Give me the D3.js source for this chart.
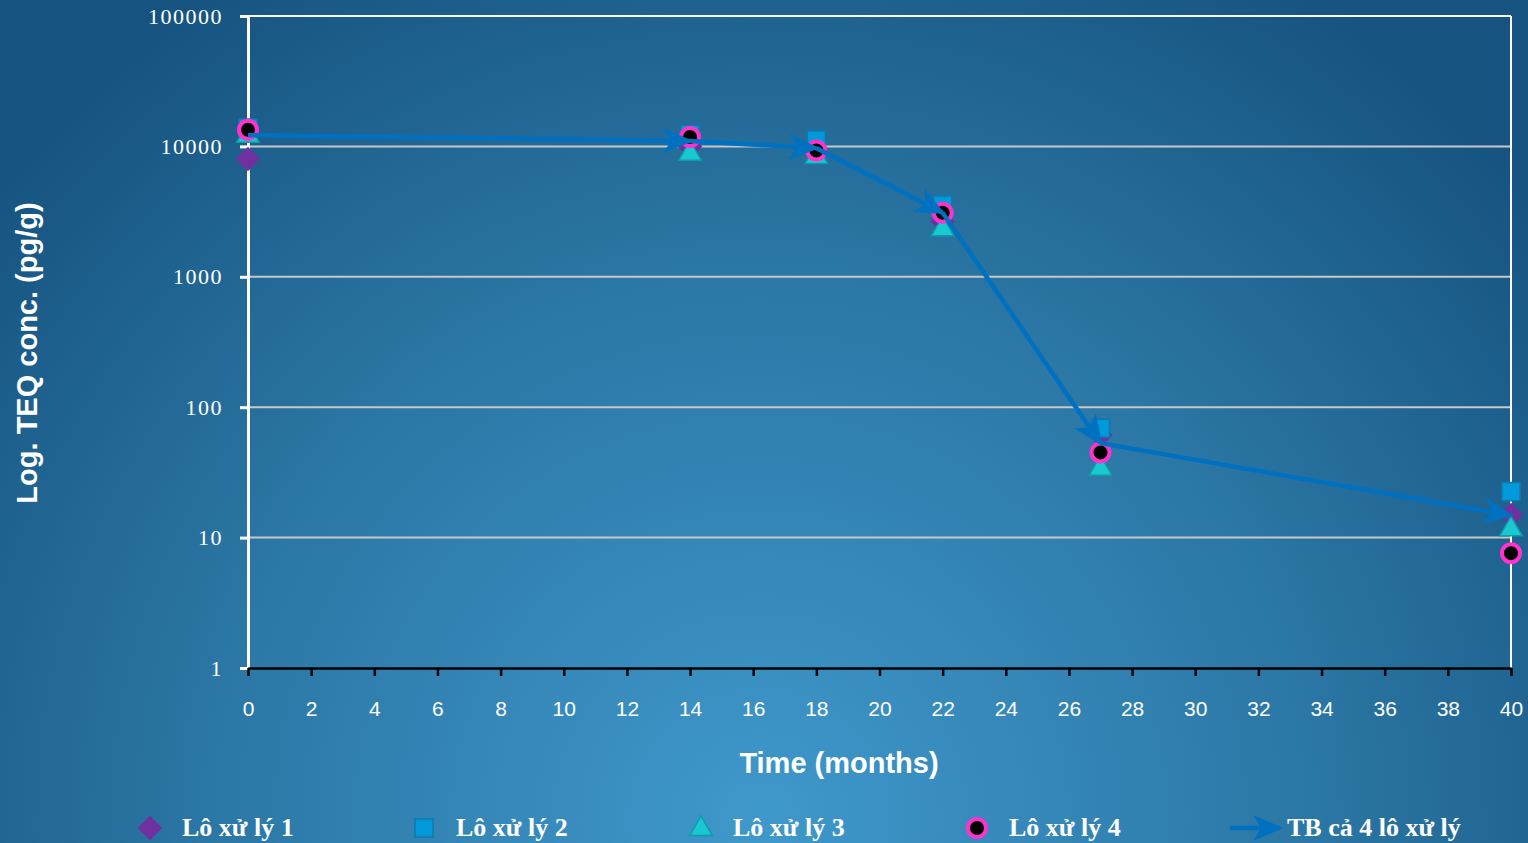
<!DOCTYPE html>
<html>
<head>
<meta charset="utf-8">
<script src="https://cdn.jsdelivr.net/npm/d3@7"></script>
<style>
  html, body { margin: 0; padding: 0; overflow: hidden; }
  svg { display: block; }
</style>
</head>
<body>
<div id="base"></div>
<script>
// data
var months = [0, 14, 18, 22, 27, 40];
var lot1 = [8000, 10000, 9500, 2650, 61, 14.9];
var lot2 = [13800, 12400, 11200, 3550, 69, 22.5];
var lot3 = [12500, 9100, 8600, 2400, 35, 12];
var lot4 = [13400, 11800, 9300, 3100, 45, 7.6];
var average = [12200, 11000, 9700, 3100, 53, 14.8];
var seriesNames = ["Lô xử lý 1", "Lô xử lý 2", "Lô xử lý 3", "Lô xử lý 4", "TB cả 4 lô xử lý"];
var yTicks = [1, 10, 100, 1000, 10000, 100000];
var xTicks = d3.range(0, 41, 2);

const width = 1528;
const height = 843;
const plotLeft = 248, plotRight = 1511, plotTop = 16, plotBottom = 668;

const x = d3.scaleLinear().domain([0, 40]).range([plotLeft, plotRight]);
const y = d3.scaleLog().domain([1, 100000]).range([plotBottom, plotTop]);

const svg = d3.select("#base").append("svg")
    .attr("width", width)
    .attr("height", height);

const defs = svg.append("defs");
const grad = defs.append("radialGradient")
    .attr("id", "bg")
    .attr("gradientUnits", "userSpaceOnUse")
    .attr("cx", 760).attr("cy", 820).attr("r", 1000)
    .attr("fx", 760).attr("fy", 820);
grad.append("stop").attr("offset", 0).attr("stop-color", "#3f98cb");
grad.append("stop").attr("offset", 0.55).attr("stop-color", "#2b77a5");
grad.append("stop").attr("offset", 1).attr("stop-color", "#165380");

// stealth style arrow head
defs.append("marker")
    .attr("id", "arrow")
    .attr("viewBox", "0 0 30 30")
    .attr("refX", 27).attr("refY", 15)
    .attr("markerWidth", 30).attr("markerHeight", 30)
    .attr("markerUnits", "userSpaceOnUse")
    .attr("orient", "auto")
  .append("path")
    .attr("d", "M0,2 L30,15 L0,28 L8,15 Z")
    .attr("fill", "#0070c0");

svg.append("rect")
    .attr("width", width).attr("height", height)
    .attr("fill", "url(#bg)");

// grid lines
svg.append("g")
  .selectAll("line")
  .data(yTicks.filter(d => d > 1 && d < 100000))
  .join("line")
    .attr("x1", plotLeft).attr("x2", plotRight)
    .attr("y1", d => y(d)).attr("y2", d => y(d))
    .attr("stroke", "#c8c8c8")
    .attr("stroke-width", 2);

// frame: top and right
svg.append("line")
    .attr("x1", plotLeft).attr("x2", plotRight).attr("y1", plotTop).attr("y2", plotTop)
    .attr("stroke", "#fff").attr("stroke-width", 2);
svg.append("line")
    .attr("x1", plotRight).attr("x2", plotRight).attr("y1", plotTop).attr("y2", plotBottom)
    .attr("stroke", "#fff").attr("stroke-width", 2);

// y axis
const yAxis = svg.append("g")
    .attr("transform", `translate(${plotLeft},0)`)
    .call(d3.axisLeft(y).tickValues(yTicks).tickFormat(d3.format("d")).tickSize(8).tickPadding(17));
yAxis.select(".domain").attr("stroke", "#fff").attr("stroke-width", 3);
yAxis.selectAll(".tick line").attr("stroke", "#fff").attr("stroke-width", 3);
yAxis.selectAll(".tick text")
    .attr("fill", "#fff")
    .attr("font-family", "'Liberation Serif', 'DejaVu Serif', serif")
    .attr("font-size", 22)
    .style("letter-spacing", "1.5px");

// x axis
const xAxis = svg.append("g")
    .attr("transform", `translate(0,${plotBottom})`)
    .call(d3.axisBottom(x).tickValues(xTicks).tickSize(8).tickPadding(25).tickSizeOuter(0));
xAxis.select(".domain").attr("stroke", "#000").attr("stroke-width", 2.5);
xAxis.selectAll(".tick line").attr("stroke", "#000").attr("stroke-width", 2.5);
xAxis.selectAll(".tick text")
    .attr("fill", "#fff")
    .attr("font-family", "'Liberation Sans', Arial, sans-serif")
    .attr("font-size", 21);

// axis titles
svg.append("text")
    .attr("x", 839).attr("y", 773)
    .attr("text-anchor", "middle")
    .attr("fill", "#fff")
    .attr("font-family", "'Liberation Sans', Arial, sans-serif")
    .attr("font-weight", "bold")
    .attr("font-size", 29)
    .text("Time (months)");

svg.append("text")
    .attr("transform", "translate(37,353) rotate(-90)")
    .attr("text-anchor", "middle")
    .attr("fill", "#fff")
    .attr("font-family", "'Liberation Sans', Arial, sans-serif")
    .attr("font-weight", "bold")
    .attr("font-size", 29)
    .text("Log. TEQ conc. (pg/g)");

// marker drawing helpers
const sym = {
  diamond: d3.symbol().type(d3.symbolSquare).size(300),
  square: d3.symbol().type(d3.symbolSquare).size(330),
  triangle: d3.symbol().type(d3.symbolTriangle).size(220)
};

function drawDiamond(g, cx, cy) {
  g.append("path").attr("d", sym.diamond())
    .attr("transform", `translate(${cx},${cy}) rotate(45)`)
    .attr("fill", "#7030a0");
}
function drawSquare(g, cx, cy) {
  g.append("path").attr("d", sym.square())
    .attr("transform", `translate(${cx},${cy})`)
    .attr("fill", "#0099d9").attr("stroke", "#0f79ad").attr("stroke-width", 1.5);
}
function drawTriangle(g, cx, cy) {
  g.append("path").attr("d", sym.triangle())
    .attr("transform", `translate(${cx},${cy + 2})`)
    .attr("fill", "#18c9d2").attr("stroke", "#0f9ba8").attr("stroke-width", 1.5);
}
function drawCircle(g, cx, cy) {
  g.append("circle").attr("cx", cx).attr("cy", cy).attr("r", 9)
    .attr("fill", "#000").attr("stroke", "#ff33cc").attr("stroke-width", 4);
}

const marks = svg.append("g");
lot1.forEach((v, i) => drawDiamond(marks, x(months[i]), y(v)));
lot2.forEach((v, i) => drawSquare(marks, x(months[i]), y(v)));
lot3.forEach((v, i) => drawTriangle(marks, x(months[i]), y(v)));
lot4.forEach((v, i) => drawCircle(marks, x(months[i]), y(v)));

// average line: one arrow per segment
const segs = d3.pairs(months.map((m, i) => [m, average[i]]));
svg.append("g")
  .selectAll("line")
  .data(segs)
  .join("line")
    .attr("x1", d => x(d[0][0])).attr("y1", d => y(d[0][1]))
    .attr("x2", d => x(d[1][0])).attr("y2", d => y(d[1][1]))
    .attr("stroke", "#0070c0")
    .attr("stroke-width", 4.5)
    .attr("marker-end", "url(#arrow)");

// legend
const legendY = 828;
const legendX = [150, 424, 701, 977];
const legend = svg.append("g");
drawDiamond(legend, legendX[0], legendY);
drawSquare(legend, legendX[1], legendY);
drawTriangle(legend, legendX[2], legendY - 1);
drawCircle(legend, legendX[3], legendY);
legend.append("line")
    .attr("x1", 1230).attr("y1", legendY).attr("x2", 1280).attr("y2", legendY)
    .attr("stroke", "#0070c0").attr("stroke-width", 4.5)
    .attr("marker-end", "url(#arrow)");

const legendTextX = [182, 456, 733, 1009, 1287];
legend.selectAll("text")
  .data(seriesNames)
  .join("text")
    .attr("x", (d, i) => legendTextX[i])
    .attr("y", legendY + 8)
    .attr("fill", "#fff")
    .attr("font-family", "'Liberation Serif', 'DejaVu Serif', serif")
    .attr("font-weight", "bold")
    .attr("font-size", 26)
    .text(d => d);
</script>
</body>
</html>
